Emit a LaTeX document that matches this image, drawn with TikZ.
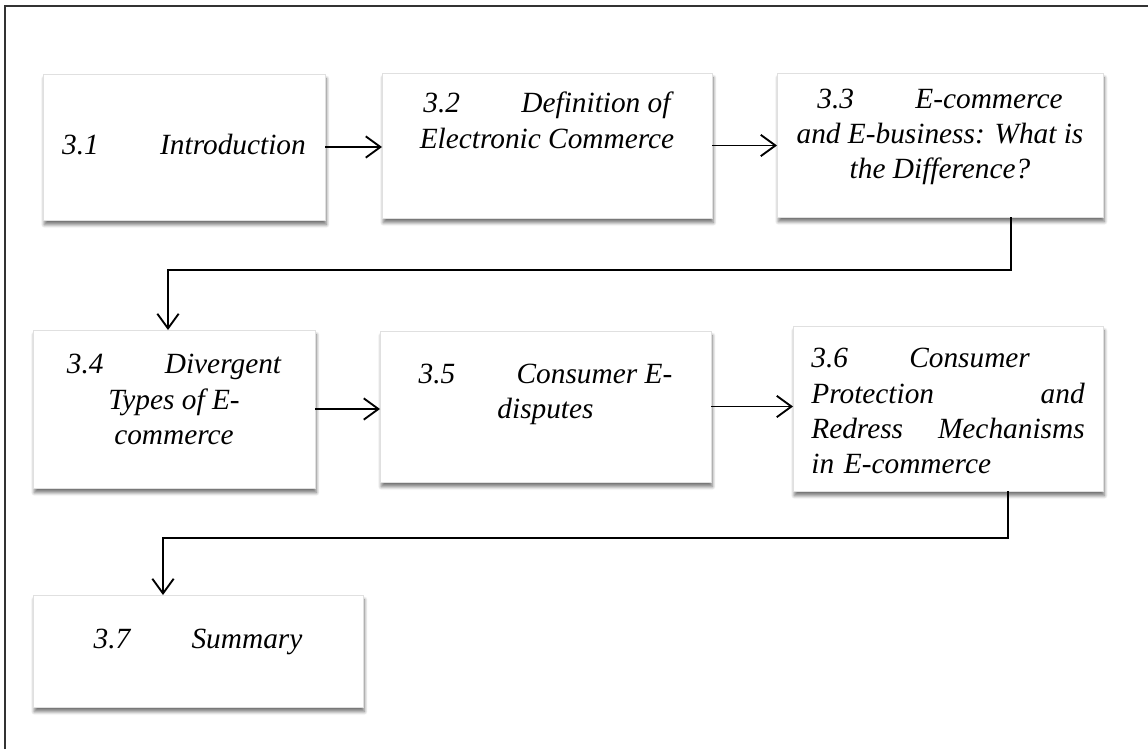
\documentclass[tikz,border=0pt]{standalone}
\usepackage{fontspec}
\setmainfont{Liberation Serif}
\usetikzlibrary{arrows.meta,shadows.blur}

\newcommand{\tabgap}{\hspace{46pt}}

\begin{document}
\begin{tikzpicture}[
    x=0.75pt, y=-0.75pt,
    >={Straight Barb[length=11pt,width=16pt]},
    box/.style = {
      draw = black!12,
      fill = white,
      rectangle,
      inner sep = 0pt,
      outer sep = 0pt,
      blur shadow = {shadow xshift=1pt, shadow yshift=-3.5pt, shadow blur radius=2.5pt, shadow blur steps=8, shadow opacity=55}
    },
    txt/.style = {
      font = \fontsize{22}{26.5}\selectfont\itshape,
      align = center,
      inner sep = 0pt
    },
    link/.style = {
      ->,
      line width = 1.4pt
    }
  ]
  \useasboundingbox (0,0) rectangle (1148,749);
  \draw[black!80, line width=0.8pt] (5,749) -- (5,6) -- (1148,6);

  \node (b1) [box, minimum width=211.5pt, minimum height=109.5pt,
    label={[txt, name=t1, yshift=2pt]center:{3.1\tabgap Introduction}}] at (184,147) {};
  \node (b2) [box, minimum width=247.5pt, minimum height=108.75pt,
    label={[txt, name=t2, yshift=19pt]center:{3.2\tabgap Definition of\\Electronic Commerce}}] at (547,145.5) {};
  \node (b3) [box, minimum width=244.5pt, minimum height=108pt,
    label={[txt, name=t3, yshift=6pt]center:{3.3\tabgap E-commerce\\and E-business: What is\\the Difference?}}] at (940,145) {};

  \node (b4) [box, minimum width=211.5pt, minimum height=118.5pt,
    label={[txt, name=t4, yshift=7pt]center:{3.4\tabgap Divergent\\Types of E-\\commerce}}] at (174,409) {};
  \node (b5) [box, minimum width=248.25pt, minimum height=113.25pt,
    label={[txt, name=t5, yshift=9pt]center:{3.5\tabgap Consumer E-\\disputes}}] at (545.5,406.5) {};
  \node (b6) [box, minimum width=232.5pt, minimum height=123.75pt,
    label={[txt, name=t6, align=left, text width=205pt, yshift=-2pt]center:{3.6\tabgap Consumer\\Protection\hfill and\\Redress\hfill Mechanisms\\in E-commerce}}] at (948,408.5) {};

  \node (b7) [box, minimum width=247.5pt, minimum height=84pt,
    label={[txt, name=t7, yshift=7pt]center:{3.7\tabgap Summary}}] at (198,651) {};

  \coordinate (c3) at (1011,270);
  \coordinate (c4) at (168,270);
  \coordinate (c6) at (1008,538);
  \coordinate (c7) at (163,538);

  \draw[link] (b1.east) -- (b1.east -| b2.west);
  \draw[link] (b2.east) -- (b2.east -| b3.west);
  \draw[link] (b3.south -| c3) -- (c3) -- (c4) -- (b4.north -| c4);
  \draw[link] (b4.east) -- (b4.east -| b5.west);
  \draw[link] (b5.east) -- (b5.east -| b6.west);
  \draw[link] (b6.south -| c6) -- (c6) -- (c7) -- (b7.north -| c7);
\end{tikzpicture}
\end{document}
